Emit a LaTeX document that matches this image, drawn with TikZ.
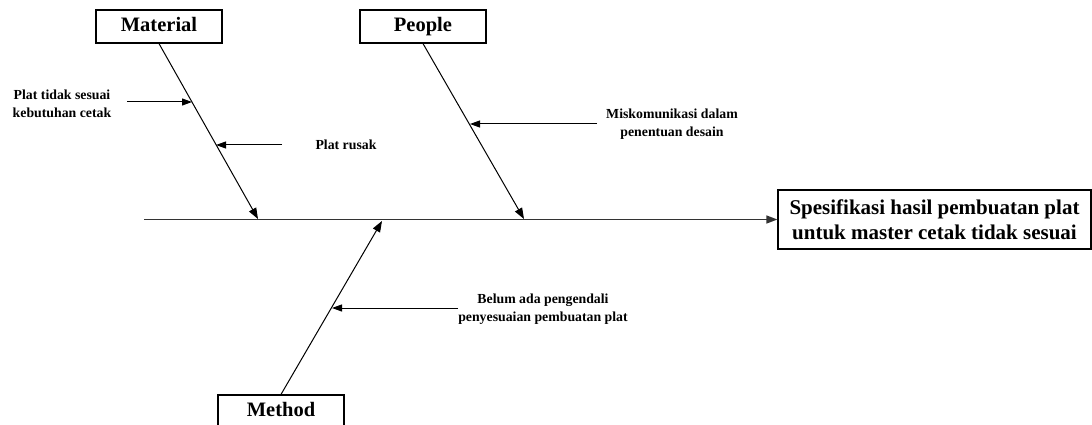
\documentclass[tikz,border=0pt]{standalone}
\usepackage{fontspec}
\setmainfont{Liberation Serif}
\usetikzlibrary{arrows.meta, positioning, calc}
\tikzset{
  every picture/.style={line width=1pt},
  catbox/.style={draw, line width=1.2pt, minimum width=126pt, minimum height=33pt, inner sep=0pt,
    text height=14pt, text depth=4pt, font=\fontsize{20.5}{24}\selectfont\bfseries},
  effbox/.style={draw, line width=1.2pt, minimum width=313pt, minimum height=59pt, inner sep=0pt,
    align=center, font=\fontsize{21}{25}\selectfont\bfseries},
  cause/.style={align=center, inner sep=0pt, font=\fontsize{13.8}{18}\selectfont\bfseries},
  bone/.style={-{Triangle[length=11pt, width=8pt]}},
  spine/.style={-{Triangle[length=11pt, width=8pt]}, draw=black!80, line width=1.3pt},
  causearrow/.style={-{Triangle[length=10pt, width=7pt]}},
}
\begin{document}
\begin{tikzpicture}[x=1pt, y=-1pt]
  \useasboundingbox (0,0) rectangle (1092,425);

  % categories and effect
  \node[catbox] (mat) at (159,26.5) {Material};
  \node[catbox] (ppl) at (423,26.5) {People};
  \node[catbox] (mtd) at (281,411.5) {Method};
  \node[effbox] (eff) at (934.5,219.5) {Spesifikasi hasil pembuatan plat\\untuk master cetak tidak sesuai};

  % spine
  \coordinate (head) at (144,219.5);
  \draw[spine] (head) -- (eff.west);

  % bones
  \coordinate (matend) at (258,219);
  \coordinate (pplend) at (524,219);
  \coordinate (mtdend) at (382,221);
  \draw[bone] (mat.south) -- (matend);
  \draw[bone] (ppl.south) -- (pplend);
  \draw[bone] (mtd.north) -- (mtdend);

  % causes
  \node[cause] (c1) at (62,104) {Plat tidak sesuai\\kebutuhan cetak};
  \node[cause, anchor=west] (c2) at (315,145) {Plat rusak};
  \node[cause] (c3) at (672,124) {Miskomunikasi dalam\\penentuan desain};
  \node[cause] (c4) at (543,309) {Belum ada pengendali\\penyesuaian pembuatan plat};

  \coordinate (t1) at (127,102);  \coordinate (b1) at (192,102);
  \coordinate (t2) at (282,145);  \coordinate (b2) at (216,145);
  \coordinate (t3) at (597,124);  \coordinate (b3) at (470,124);
  \coordinate (t4) at (458,308);  \coordinate (b4) at (332,308);
  \foreach \t/\b in {t1/b1, t2/b2, t3/b3, t4/b4}
    \draw[causearrow] (\t) -- (\b);
\end{tikzpicture}
\end{document}
